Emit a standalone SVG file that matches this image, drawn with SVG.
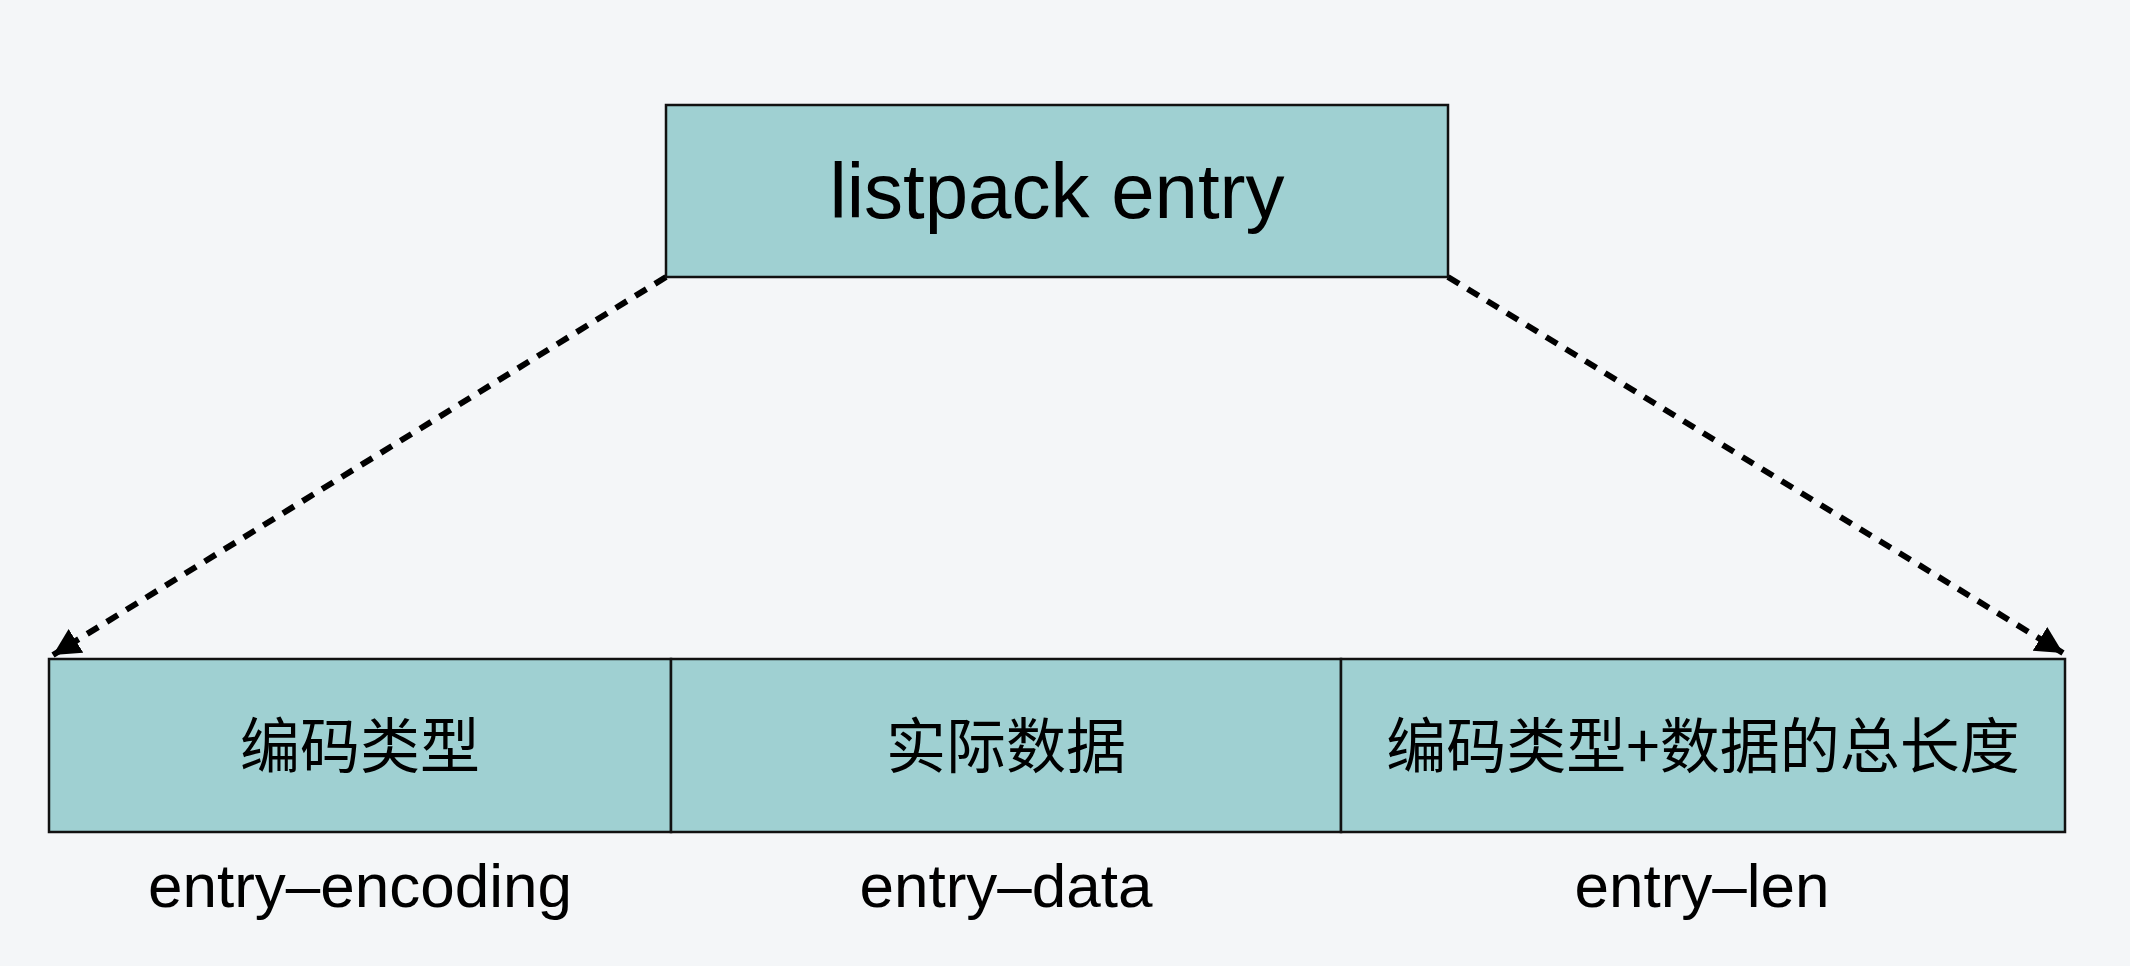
<svg xmlns="http://www.w3.org/2000/svg" width="2130" height="966" viewBox="0 0 2130 966">
  <defs>
    <style>
      .box { fill: #9fd0d2; stroke: #111; stroke-width: 2.5; }
      .en { font-family: "Liberation Sans", Arial, sans-serif; fill: #000; text-anchor: middle; }
      .zh { font-family: "Noto Sans CJK SC", "Liberation Sans", sans-serif; fill: #000; text-anchor: middle; font-size: 60px; }
      .conn { fill: none; stroke: #000; stroke-width: 6; stroke-dasharray: 13 10; }
    </style>
    <marker id="arrow" markerUnits="userSpaceOnUse" markerWidth="30" markerHeight="30" refX="27" refY="14" orient="auto">
      <path d="M0,0 L27,14 L0,28 Z" fill="#000"/>
    </marker>
  </defs>
  <rect x="0" y="0" width="2130" height="966" fill="#f4f6f8"/>

  <g id="connectors">
    <line class="conn" x1="666" y1="277" x2="53" y2="655" marker-end="url(#arrow)"/>
    <line class="conn" x1="1448" y1="277" x2="2063" y2="653" marker-end="url(#arrow)"/>
  </g>

  <g id="listpack-entry">
    <rect class="box" x="666" y="105" width="782" height="172"/>
    <text class="en" x="1057" y="218" font-size="78">listpack entry</text>
  </g>

  <g id="entry-encoding">
    <rect class="box" x="49" y="659" width="622" height="173"/>
    <text class="zh" x="360" y="768">编码类型</text>
    <text class="en" x="360" y="907" font-size="62">entry–encoding</text>
  </g>

  <g id="entry-data">
    <rect class="box" x="671" y="659" width="670" height="173"/>
    <text class="zh" x="1006" y="768">实际数据</text>
    <text class="en" x="1006" y="907" font-size="62">entry–data</text>
  </g>

  <g id="entry-len">
    <rect class="box" x="1341" y="659" width="724" height="173"/>
    <text class="zh" x="1703" y="768">编码类型+数据的总长度</text>
    <text class="en" x="1702" y="907" font-size="62">entry–len</text>
  </g>
</svg>
